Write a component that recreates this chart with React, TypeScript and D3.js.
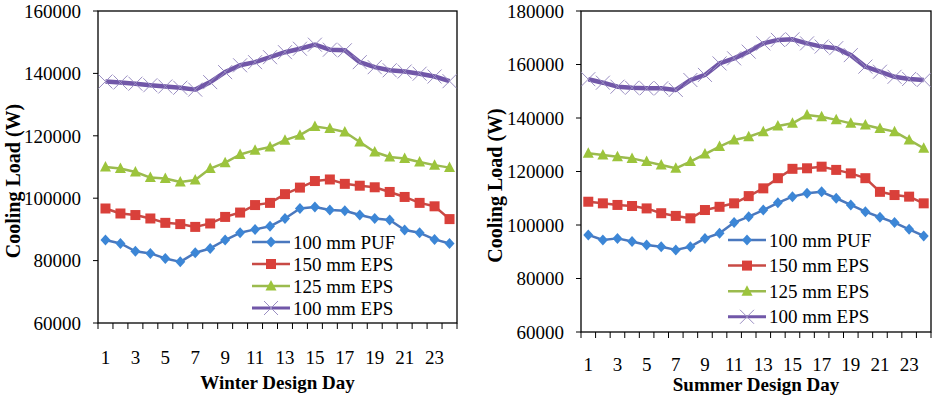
import React from "react";
import * as d3 from "d3";

// hours of the design day (category axis)
const days = [1, 2, 3, 4, 5, 6, 7, 8, 9, 10, 11, 12, 13, 14, 15, 16, 17, 18, 19, 20, 21, 22, 23, 24];
const dayTickLabels = [1, 3, 5, 7, 9, 11, 13, 15, 17, 19, 21, 23];

const seriesNames = ["100 mm PUF", "150 mm EPS", "125 mm EPS", "100 mm EPS"];

// winter design day, cooling load (W)
const winterPuf100 = [86600, 85500, 83000, 82300, 80700, 79600, 82500, 83900, 86600, 88900, 90000, 91000, 93500, 96700, 97200, 96200, 96000, 94600, 93500, 93000, 89800, 88900, 86800, 85500];
const winterEps150 = [96700, 95100, 94600, 93500, 92100, 91700, 90800, 91900, 94000, 95400, 97800, 98500, 101300, 103400, 105500, 106000, 104600, 104000, 103500, 102000, 100400, 98500, 97400, 93300];
const winterEps125 = [110000, 109500, 108400, 106600, 106300, 105200, 105800, 109500, 111400, 114000, 115400, 116400, 118600, 120200, 123000, 122300, 121200, 118000, 114800, 113200, 112700, 111600, 110600, 109800];
const winterEps100 = [137400, 137100, 136700, 136200, 135800, 135400, 134800, 137200, 140400, 142600, 143600, 145200, 146800, 147900, 149200, 147600, 147400, 143600, 142000, 141000, 140600, 139900, 139000, 137500];
const winterTicks = [60000, 80000, 100000, 120000, 140000, 160000];

// summer design day, cooling load (W)
const summerPuf100 = [96300, 94400, 95000, 93800, 92500, 91900, 90700, 91900, 95000, 96900, 100900, 103100, 105600, 108300, 110600, 111900, 112400, 110000, 107500, 105000, 102900, 100900, 98400, 95900];
const summerEps150 = [108700, 108100, 107500, 107100, 106200, 104400, 103400, 102500, 105600, 106800, 108100, 110800, 113700, 117500, 121000, 121200, 121800, 120600, 119300, 117500, 112400, 111200, 110600, 108100];
const summerEps125 = [126800, 126200, 125500, 124900, 123700, 122400, 121200, 123700, 126500, 129300, 131800, 133000, 134900, 137000, 138000, 141100, 140500, 139300, 138000, 137400, 136100, 134900, 131800, 128700];
const summerEps100 = [154500, 153200, 151700, 151300, 151100, 151100, 150500, 154200, 156100, 160400, 162300, 164800, 167900, 169200, 169400, 167900, 166700, 166100, 163500, 159200, 157300, 155400, 154600, 154200];
const summerTicks = [60000, 80000, 100000, 120000, 140000, 160000, 180000];

const lineColors = ["#4A78BE", "#C84A45", "#9BBB4E", "#7157A8"];
const markerColors = ["#3C86D6", "#D9403A", "#9CC43C", "#9A8EC2"];
const lineWidths = [2.5, 2.5, 2.5, 4.5];
const serif = { fontFamily: "Liberation Serif, Times New Roman, serif" };

function Marker({ kind, cx, cy }: { kind: number; cx: number; cy: number }) {
  const c = markerColors[kind];
  if (kind === 0)
    return <path d={`M${cx},${cy - 5.5}L${cx + 5},${cy}L${cx},${cy + 5.5}L${cx - 5},${cy}Z`} fill={c} />;
  if (kind === 1) return <rect x={cx - 5} y={cy - 5} width={10} height={10} fill={c} />;
  if (kind === 2)
    return <path d={`M${cx},${cy - 6}L${cx + 5.5},${cy + 4.5}L${cx - 5.5},${cy + 4.5}Z`} fill={c} />;
  return (
    <path
      d={`M${cx - 7},${cy - 7}L${cx + 7},${cy + 7}M${cx - 7},${cy + 7}L${cx + 7},${cy - 7}`}
      stroke={c}
      strokeWidth={1}
      fill="none"
    />
  );
}

type Box = { left: number; right: number; top: number; bottom: number };

function Chart({
  series,
  ticks,
  box,
  title,
  titleY,
  tickLabelY,
  yTitleX,
  legendX,
  legendY,
  legendStep,
}: {
  series: number[][];
  ticks: number[];
  box: Box;
  title: string;
  titleY: number;
  tickLabelY: number;
  yTitleX: number;
  legendX: number;
  legendY: number;
  legendStep: number;
}) {
  const x = d3.scaleBand<number>().domain(days).range([box.left, box.right]);
  const y = d3
    .scaleLinear()
    .domain([ticks[0], ticks[ticks.length - 1]])
    .range([box.bottom, box.top]);
  const cx = (d: number) => (x(d) as number) + x.bandwidth() / 2;
  const line = d3
    .line<number>()
    .x((_, i) => cx(days[i]))
    .y((v) => y(v));

  const boundaries = days.map((d) => x(d) as number).concat([box.right]);

  return (
    <g fill="#000" style={serif}>
      <rect
        x={box.left}
        y={box.top}
        width={box.right - box.left}
        height={box.bottom - box.top}
        fill="none"
        stroke="#000"
        strokeWidth={1.3}
      />
      {/* y axis */}
      {ticks.map((t) => (
        <g key={t}>
          <line x1={box.left - 5} x2={box.left} y1={y(t)} y2={y(t)} stroke="#000" />
          <text x={box.left - 17} y={y(t)} dy="0.36em" textAnchor="end" fontSize={19} style={serif}>
            {t}
          </text>
        </g>
      ))}
      <text
        transform={`translate(${yTitleX},${(box.top + box.bottom) / 2 + 14}) rotate(-90)`}
        textAnchor="middle"
        fontSize={20}
        fontWeight="bold"
        dy="0.35em"
        style={serif}
      >
        Cooling Load (W)
      </text>
      {/* x axis */}
      {boundaries.map((b, i) => (
        <line key={i} x1={b} x2={b} y1={box.bottom} y2={box.bottom + 6} stroke="#000" />
      ))}
      {dayTickLabels.map((d) => (
        <text key={d} x={cx(d)} y={tickLabelY} textAnchor="middle" fontSize={19} style={serif}>
          {d}
        </text>
      ))}
      <text
        x={(box.left + box.right) / 2}
        y={titleY}
        textAnchor="middle"
        fontSize={19}
        fontWeight="bold"
        style={serif}
      >
        {title}
      </text>
      {/* series */}
      {series.map((vals, k) => (
        <g key={k}>
          <path d={line(vals) ?? ""} fill="none" stroke={lineColors[k]} strokeWidth={lineWidths[k]} strokeLinejoin="round" />
          {vals.map((v, i) => (
            <Marker key={i} kind={k} cx={cx(days[i])} cy={y(v)} />
          ))}
        </g>
      ))}
      {/* legend */}
      {seriesNames.map((name, k) => {
        const ly = legendY + k * legendStep;
        return (
          <g key={name}>
            <line x1={legendX} x2={legendX + 38} y1={ly} y2={ly} stroke={lineColors[k]} strokeWidth={k === 3 ? 3 : 2.5} />
            <Marker kind={k} cx={legendX + 19} cy={ly} />
            <text x={legendX + 41} y={ly} dy="0.35em" fontSize={19} style={serif}>
              {name}
            </text>
          </g>
        );
      })}
    </g>
  );
}

export default function App() {
  return (
    <svg
      width={933}
      height={400}
      style={{ position: "absolute", left: 0, top: 0, background: "#fff" }}
    >
      <rect width={933} height={400} fill="#fff" />
      <Chart
        series={[winterPuf100, winterEps150, winterEps125, winterEps100]}
        ticks={winterTicks}
        box={{ left: 98, right: 457, top: 11, bottom: 323 }}
        title="Winter Design Day"
        titleY={389}
        tickLabelY={364}
        yTitleX={13}
        legendX={252}
        legendY={242}
        legendStep={22}
      />
      <Chart
        series={[summerPuf100, summerEps150, summerEps125, summerEps100]}
        ticks={summerTicks}
        box={{ left: 581, right: 931, top: 11, bottom: 332 }}
        title="Summer Design Day"
        titleY={391}
        tickLabelY={371}
        yTitleX={495}
        legendX={728}
        legendY={240}
        legendStep={25.6}
      />
    </svg>
  );
}
